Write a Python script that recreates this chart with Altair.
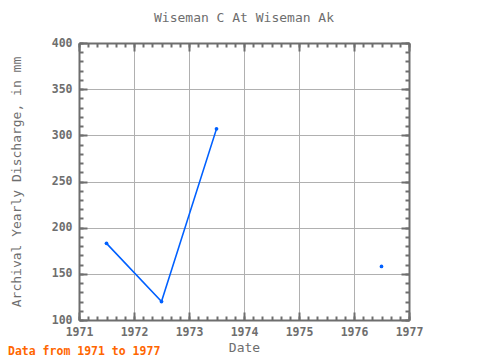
import altair as alt
import pandas as pd

# ---- data ----
years = [1971.5, 1972.5, 1973.5, 1974.5, 1975.5, 1976.5]
discharge = [183, 120, 307, None, None, 158]

x_major = [1971, 1972, 1973, 1974, 1975, 1976, 1977]
x_minor = [1971 + i / 6 for i in range(37)]
y_major = [100, 150, 200, 250, 300, 350, 400]
y_minor = list(range(100, 401, 10))

title_text = "Wiseman C At Wiseman Ak"
x_title = "Date"
y_title = "Archival Yearly Discharge, in mm"
footer_text = ["Data from 1971 to 1977"]

# ---- styling ----
W, H = 330, 277
GRAY = "#6e6e6e"
GRID = "#b0b0b0"
BLUE = "#0060ff"
ORANGE = "#ff6600"
FONT = "DejaVu Sans Mono"

df = pd.DataFrame({"year": years, "value": discharge})
xs = alt.Scale(domain=[1971, 1977], nice=False, zero=False)
ys = alt.Scale(domain=[100, 400], nice=False, zero=False)

lab = dict(labelFont=FONT, labelFontSize=11.5, labelColor=GRAY,
           labelFontWeight="bold", labelFlush=False)
ttl = dict(titleFont=FONT, titleFontSize=13, titleColor=GRAY, titleFontWeight="normal")

main = alt.Chart(df).mark_line(color=BLUE, strokeWidth=1.6).encode(
    x=alt.X("year:Q", scale=xs, axis=alt.Axis(
        orient="bottom", values=x_major, format="d", grid=True, gridColor=GRID,
        gridOpacity=1, ticks=False, domain=True, domainColor=GRAY, domainWidth=2,
        labelPadding=6, title=x_title, titlePadding=4, **lab, **ttl)),
    y=alt.Y("value:Q", scale=ys, axis=alt.Axis(
        orient="left", values=y_major, format="d", grid=True, gridColor=GRID,
        gridOpacity=1, ticks=False, domain=True, domainColor=GRAY, domainWidth=2,
        labelPadding=7, title=y_title, titlePadding=28, **lab, **ttl)),
)

points = alt.Chart(df).mark_circle(color=BLUE, size=14, opacity=1).encode(
    x=alt.X("year:Q", scale=xs, axis=None),
    y=alt.Y("value:Q", scale=ys, axis=None),
)


def tick_layer(xvals, yvals, size, xorient, yorient, domain):
    return alt.Chart(df).mark_point(opacity=0).encode(
        x=alt.X("year:Q", scale=xs, axis=alt.Axis(
            orient=xorient, offset=-H, values=xvals, labels=False, grid=False,
            ticks=True, tickSize=size, tickColor=GRAY, tickWidth=2,
            domain=domain, domainColor=GRAY, domainWidth=2, title=None)),
        y=alt.Y("value:Q", scale=ys, axis=alt.Axis(
            orient=yorient, offset=-W, values=yvals, labels=False, grid=False,
            ticks=True, tickSize=size, tickColor=GRAY, tickWidth=2,
            domain=domain, domainColor=GRAY, domainWidth=2, title=None)),
    )


# inward ticks: bottom/left (flipped axes), top/right (flipped axes)
major_bl = tick_layer(x_major, y_major, 8, "top", "right", False)
major_tr = tick_layer(x_major, y_major, 8, "bottom", "left", True)
minor_bl = tick_layer(x_minor, y_minor, 4, "top", "right", False)
minor_tr = tick_layer(x_minor, y_minor, 4, "bottom", "left", False)

footer = alt.Chart(pd.DataFrame({"t": footer_text})).mark_text(
    align="left", baseline="middle", font=FONT, fontSize=11.5,
    fontWeight="bold", color=ORANGE,
).encode(x=alt.value(-71), y=alt.value(H + 32), text="t:N")

chart = alt.layer(
    main, points, major_bl, major_tr, minor_bl, minor_tr, footer
).resolve_axis(
    x="independent", y="independent"
).properties(
    width=W, height=H,
    title=alt.TitleParams(title_text, font=FONT, fontSize=13, color=GRAY,
                          fontWeight="normal", frame="group", anchor="middle",
                          offset=12),
    autosize=alt.AutoSizeParams(type="none"),
    padding={"left": 71, "top": 35, "right": 60, "bottom": 38},
).configure_view(stroke=None)

chart.save("out.html", embed_options={"renderer": "svg", "actions": False})
